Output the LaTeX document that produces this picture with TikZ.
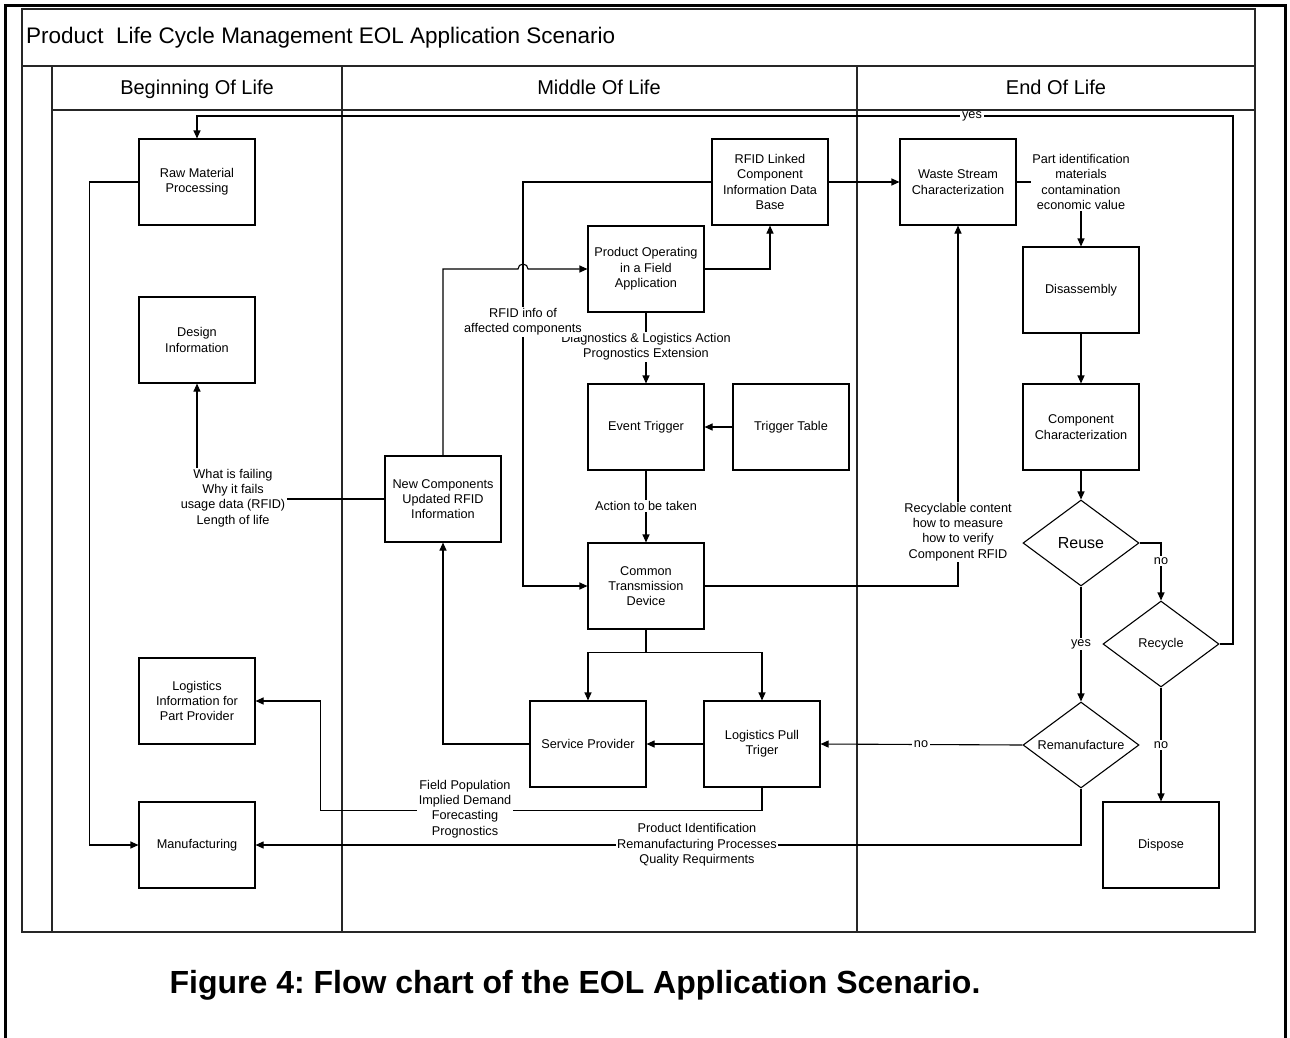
\documentclass[tikz,border=0pt]{standalone}
\usepackage{fontspec}
\setmainfont{Liberation Sans}
\usetikzlibrary{arrows.meta,shapes.geometric,calc}
\frenchspacing

\begin{document}
\begin{tikzpicture}[x=1pt,y=-1pt,
  txt/.style={font=\fontsize{12.7}{15.3}\selectfont},
  box/.style={txt,draw=black,line width=1.1pt,minimum width=116pt,minimum height=86pt,inner sep=2pt,align=center},
  dec/.style={txt,draw=black,diamond,line width=1.1pt,minimum width=116pt,minimum height=86pt,shape aspect=1.35,inner sep=0pt},
  conn/.style={line width=1.1pt},
  arr/.style={conn,-{Triangle[length=8pt,width=7pt]}},
  lbl/.style={txt,fill=white,inner sep=1.5pt,align=center},
  lane/.style={line width=1.4pt,draw=black!85},
  head/.style={font=\fontsize{20}{24}\selectfont,text height=14.5pt,text depth=4pt,inner sep=0pt}]

\useasboundingbox (0,0) rectangle (1290,1037);

% page frame (open at the bottom)
\draw[line width=3pt] (5,1045) -- (5,5) -- (1285,5) -- (1285,1045);

% swimlane frame
\draw[lane] (22,9) rectangle (1255,932);
\draw[lane] (22,66) -- (1255,66);
\draw[lane] (52,110) -- (1255,110);
\draw[lane] (52,66) -- (52,932);
\draw[lane] (342,66) -- (342,932);
\draw[lane] (857,66) -- (857,932);

\node[anchor=west,inner sep=0pt,font=\fontsize{22.5}{27}\selectfont] (title) at (26,38)
  {Product\ \ Life Cycle Management EOL Application Scenario};
\node[head] (hBOL) at (197,89.5) {Beginning Of Life};
\node[head] (hMOL) at (599,89.5) {Middle Of Life};
\node[head] (hEOL) at (1056,89.5) {End Of Life};

% Beginning of life
\node[box] (rm) at (197,182) {Raw Material\\Processing};
\node[box] (di) at (197,340) {Design\\Information};
\node[box] (li) at (197,701) {Logistics\\Information for\\Part Provider};
\node[box] (mf) at (197,845) {Manufacturing};

% Middle of life
\node[box] (nc) at (443,499) {New Components\\Updated RFID\\Information};
\node[box] (db) at (770,182) {RFID Linked\\Component\\Information Data\\Base};
\node[box] (po) at (646,269) {Product Operating\\in a Field\\Application};
\node[box] (et) at (646,427) {Event Trigger};
\node[box] (tt) at (791,427) {Trigger Table};
\node[box] (ct) at (646,586) {Common\\Transmission\\Device};
\node[box] (sp) at (588,744) {Service Provider};
\node[box] (lp) at (762,744) {Logistics Pull\\Triger};

% End of life
\node[box] (ws) at (958,182) {Waste Stream\\Characterization};
\node[box] (da) at (1081,290) {Disassembly};
\node[box] (cc) at (1081,427) {Component\\Characterization};
\node[dec,font=\fontsize{16}{19}\selectfont] (ru) at (1081,543) {Reuse};
\node[dec] (rc) at (1161,644) {Recycle};
\node[dec] (rf) at (1081,745) {Remanufacture};
\node[box] (dp) at (1161,845) {Dispose};

% routing points
\coordinate (jx) at (523,269);
\coordinate (yr) at (1233,116);

% connectors
\draw[arr] (rc.east) -| (yr) -| (rm.north);
\draw[arr] (rm.west) -- ++(-49,0) |- (mf.west);
\draw[arr] (nc.west) -| (di.south);
\draw[arr] (db.west) -| (jx |- ct.west) -- (ct.west);
\draw[arr] (nc.north) |- ([xshift=-5pt]jx) arc[start angle=180,end angle=0,radius=5pt] -- (po.west);
\draw[arr] (po.east) -| (db.south);
\draw[arr] (db.east) -- (ws.west);
\draw[arr] (po.south) -- (et.north);
\draw[arr] (tt.west) -- (et.east);
\draw[arr] (et.south) -- (ct.north);
\draw[arr] (ct.east) -| (ws.south);
\draw[conn] (ct.south) -- ++(0,23) coordinate (fk);
\draw[arr] (fk) -| (sp.north);
\draw[arr] (fk) -| (lp.north);
\draw[arr] (sp.west) -| (nc.south);
\draw[arr] (lp.west) -- (sp.east);
\draw[arr] (lp.south) -- ++(0,23) -| ([xshift=65pt]li.east) -- (li.east);
\draw[arr] (rf.south) |- (mf.east);
\draw[arr] (ws.east) -| (da.north);
\draw[arr] (da.south) -- (cc.north);
\draw[arr] (cc.south) -- (ru.north);
\draw[arr] (ru.east) -| (rc.north);
\draw[arr] (ru.south) -- (rf.north);
\draw[arr] (rf.west) -- (lp.east);
\draw[arr] (rc.south) -- (dp.north);

% connector labels
\node[lbl,inner ysep=0pt,inner xsep=2pt] (lYesTop) at (972,116) {yes};
\node[lbl] (lWhat) at (233,498) {What is failing\\Why it fails\\usage data (RFID)\\Length of life};
\node[lbl] (lDiag) at (646,347) {Diagnostics \& Logistics Action\\Prognostics Extension};
\node[lbl] (lRfid) at (523,322) {RFID info of\\affected components};
\node[lbl] (lAct) at (646,506) {Action to be taken};
\node[lbl] (lPart) at (1081,182) {Part identification\\materials\\contamination\\economic value};
\node[lbl] (lRecy) at (958,532) {Recyclable content\\how to measure\\how to verify\\Component RFID};
\node[lbl] (lField) at (465,809) {Field Population\\Implied Demand\\Forecasting\\Prognostics};
\node[lbl] (lProd) at (697,845) {Product Identification\\Remanufacturing Processes\\Quality Requirments};
\node[lbl] (lNo1) at (1161,561) {no};
\node[lbl] (lYes2) at (1081,644) {yes};
\node[lbl] (lNo2) at (921,744) {no};
\node[lbl] (lNo3) at (1161,745) {no};

\node[font=\bfseries\fontsize{32}{38}\selectfont] (cap) at (575,985)
  {Figure 4: Flow chart of the EOL Application Scenario.};
\end{tikzpicture}
\end{document}
